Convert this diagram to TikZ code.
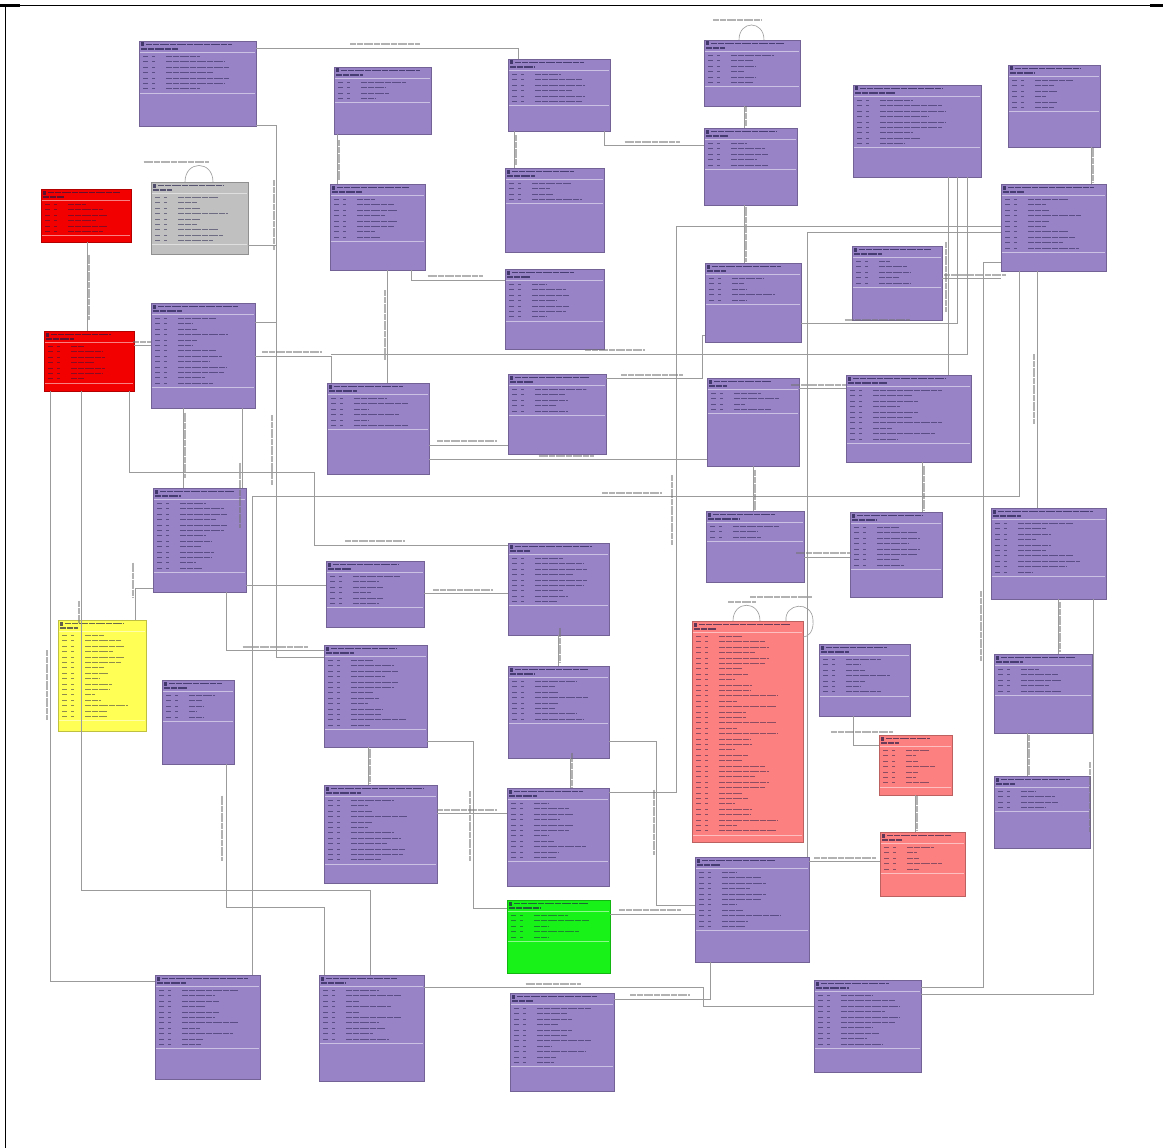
\documentclass[tikz,border=0pt]{standalone}
\usetikzlibrary{calc}
\definecolor{entpurple}{RGB}{152,131,199}
\definecolor{entred}{RGB}{242,0,0}
\definecolor{entsalmon}{RGB}{252,128,128}
\definecolor{entgray}{RGB}{192,192,192}
\definecolor{entyellow}{RGB}{255,255,85}
\definecolor{entgreen}{RGB}{25,242,25}
\definecolor{ink}{RGB}{30,25,70}
\definecolor{connc}{RGB}{155,155,155}
\tikzset{
  entbox/.style={inner sep=0pt, outer sep=0pt, line width=0.7pt},
  rowink/.style={draw=ink, line width=1.1pt, opacity=0.5, dash pattern=on 3pt off 0.4pt},
  titleink/.style={draw=ink, line width=1.3pt, opacity=0.65, dash pattern=on 3pt off 0.4pt},
  sepline/.style={draw=white, opacity=0.5, line width=0.6pt},
  conn/.style={draw=connc, line width=0.6pt},
  lbl/.style={draw=black!55, line width=1.1pt, opacity=0.55, dash pattern=on 3pt off 0.4pt},
}
% name, x1, y1, x2, y2, fill, rows, seed
\newcommand\ent[8]{%
  \pgfmathsetmacro\entw{#4-#2}\pgfmathsetmacro\enth{#5-#3}%
  \node[entbox, draw=#6!75!black, fill=#6, minimum width=\entw pt, minimum height=\enth pt] (#1) at ({(#2+#4)/2},{(#3+#5)/2}) {};
  \fill[ink, opacity=0.7] (#2+1.5,#3+1.5) rectangle (#2+5,#3+5.5);
  \pgfmathsetmacro\tla{(0.7+0.25*mod(#8*7,5)/5)*(\entw-10)}%
  \draw[titleink] (#2+7,#3+3.5) -- ++(\tla,0);
  \pgfmathsetmacro\tlb{(0.2+0.15*mod(#8*3,4)/4)*\entw}%
  \draw[titleink, line width=1.6pt] (#2+2,#3+8) -- ++(\tlb,0);
  \draw[sepline] (#2+1,#3+11.5) -- (#4-1,#3+11.5);
  \foreach \i in {1,...,#7} {
    \pgfmathsetmacro\ry{#3+15.5+(\i-1)*5.4}
    \pgfmathsetmacro\rl{(0.18+0.62*mod(\i*\i*7+\i*13+#8*11,23)/23)*(\entw-32)}
    \draw[rowink] (#2+4,\ry) -- ++(5,0);
    \draw[rowink] (#2+13,\ry) -- ++(3,0);
    \draw[rowink] (#2+27,\ry) -- ++(\rl,0);
  }
  \pgfmathsetmacro\sy{#3+15.5+(#7-1)*5.4+4}%
  \draw[sepline] (#2+1,\sy) -- (#4-1,\sy);
}
\newcommand\hlab[3]{\draw[lbl] (#1-#3/2,#2) -- (#1+#3/2,#2);}
\newcommand\vlab[3]{\draw[lbl] (#1,#2-#3/2) -- (#1,#2+#3/2);}
\begin{document}
\begin{tikzpicture}[x=1pt,y=-1pt]
\useasboundingbox (0,0) rectangle (1163,1148);
\fill[white] (0,0) rectangle (1163,1148);
% frame
\draw[line width=1pt] (5.5,1148) -- (5.5,5.5) -- (1163,5.5);
\draw[line width=2.2pt] (0,5.5) -- (20,5.5);
\draw[line width=2.2pt] (1150,5.5) -- (1163,5.5);

% entities
\ent{n1}{139}{41}{256}{126}{entpurple}{7}{1}
\ent{n2}{334}{67}{431}{134}{entpurple}{4}{2}
\ent{n3}{508}{59}{610}{131}{entpurple}{6}{3}
\ent{n4}{704}{40}{800}{106}{entpurple}{6}{4}
\ent{n5}{853}{85}{981}{177}{entpurple}{9}{5}
\ent{n6}{1008}{65}{1100}{147}{entpurple}{6}{6}
\ent{n7}{41}{189}{131}{242}{entred}{6}{7}
\ent{n8}{151}{182}{248}{254}{entgray}{9}{8}
\ent{n9}{330}{184}{425}{270}{entpurple}{8}{9}
\ent{n10}{505}{168}{604}{252}{entpurple}{4}{10}
\ent{n11}{704}{128}{797}{205}{entpurple}{5}{11}
\ent{n12}{1001}{184}{1106}{271}{entpurple}{10}{12}
\ent{n13}{44}{331}{134}{391}{entred}{7}{13}
\ent{n14}{151}{303}{255}{408}{entpurple}{13}{14}
\ent{n15}{505}{269}{604}{349}{entpurple}{7}{15}
\ent{n16}{705}{263}{801}{342}{entpurple}{5}{16}
\ent{n17}{852}{246}{942}{320}{entpurple}{5}{17}
\ent{n18}{327}{383}{429}{474}{entpurple}{6}{18}
\ent{n19}{508}{374}{606}{454}{entpurple}{5}{19}
\ent{n20}{707}{378}{799}{466}{entpurple}{4}{20}
\ent{n21}{846}{375}{971}{462}{entpurple}{10}{21}
\ent{n22}{153}{488}{246}{592}{entpurple}{13}{22}
\ent{n23}{326}{561}{424}{627}{entpurple}{6}{23}
\ent{n24}{508}{543}{609}{635}{entpurple}{9}{24}
\ent{n25}{706}{511}{804}{582}{entpurple}{3}{25}
\ent{n26}{850}{512}{942}{597}{entpurple}{8}{26}
\ent{n27}{991}{508}{1106}{599}{entpurple}{10}{27}
\ent{n28}{58}{620}{146}{731}{entyellow}{16}{28}
\ent{n29}{162}{680}{234}{764}{entpurple}{5}{29}
\ent{n30}{324}{645}{427}{747}{entpurple}{13}{30}
\ent{n31}{508}{666}{609}{758}{entpurple}{8}{31}
\ent{n32}{692}{621}{803}{842}{entsalmon}{37}{32}
\ent{n33}{819}{644}{910}{716}{entpurple}{7}{33}
\ent{n34}{994}{654}{1092}{733}{entpurple}{5}{34}
\ent{n35}{879}{735}{952}{795}{entsalmon}{7}{35}
\ent{n36}{994}{776}{1090}{848}{entpurple}{4}{36}
\ent{n37}{324}{785}{437}{883}{entpurple}{12}{37}
\ent{n38}{507}{788}{609}{886}{entpurple}{11}{38}
\ent{n39}{880}{832}{965}{896}{entsalmon}{5}{39}
\ent{n40}{695}{857}{809}{962}{entpurple}{11}{40}
\ent{n41}{507}{900}{610}{973}{entgreen}{5}{41}
\ent{n42}{155}{975}{260}{1079}{entpurple}{11}{42}
\ent{n43}{319}{975}{424}{1081}{entpurple}{10}{43}
\ent{n44}{510}{993}{614}{1091}{entpurple}{11}{44}
\ent{n45}{814}{980}{921}{1072}{entpurple}{10}{45}

% connectors
\draw[conn] (n1.east |- 0,48) -- (518,48) -- (n3.north -| 518,0); \hlab{385}{44}{70}
\draw[conn] (n1.east |- 0,125) -- (276,125) -- (276,322) -- (n14.east |- 0,322); \vlab{274}{215}{70}
\draw[conn] (n8.east |- 0,245) -- (276,245) -- (276,657) -- (n30.west |- 0,657); \vlab{272}{450}{70}
\draw[conn] (n8.north -| 185,0) .. controls (185,160) and (213,160) .. (n8.north -| 213,0); \hlab{176}{162}{65}
\draw[conn] (n7.south -| 87,0) -- (n13.north -| 87,0); \vlab{89}{287}{65}
\draw[conn] (n13.east |- 0,345) -- (n14.west |- 0,345); \hlab{142}{342}{18}
\draw[conn] (n2.south -| 337,0) -- (n9.north -| 337,0); \vlab{339}{160}{40}
\draw[conn] (n9.south -| 411,0) -- (411,280) -- (n15.west |- 0,280); \hlab{455}{276}{55}
\draw[conn] (n3.south -| 514,0) -- (n10.north -| 514,0); \vlab{516}{150}{30}
\draw[conn] (n9.south -| 387,0) -- (n18.north -| 387,0); \vlab{385}{325}{70}
\draw[conn] (n14.east |- 0,356) -- (331,356) -- (n18.north -| 331,0); \hlab{292}{352}{60}
\draw[conn] (n5.south -| 967,0) -- (967,354) -- (331,354); \hlab{615}{350}{60}
\draw[conn] (n14.south -| 183,0) -- (n22.north -| 183,0); \vlab{185}{445}{65}
\draw[conn] (n14.south -| 242,0) -- (n22.north -| 242,0); \vlab{240}{495}{65}
\draw[conn] (n13.south -| 129,0) -- (129,472) -- (314,472) -- (314,545) -- (n24.west |- 0,545); \hlab{375}{541}{60}
\draw[conn] (n13.south -| 50,0) -- (50,981) -- (n42.west |- 0,981); \vlab{47}{685}{70}
\draw[conn] (n13.south -| 81,0) -- (81,890) -- (370,890) -- (n43.north -| 370,0); \vlab{79}{612}{22}
\draw[conn] (n22.west |- 0,588) -- (135,588) -- (n28.north -| 135,0); \vlab{133}{580}{35}
\draw[conn] (n22.east |- 0,585) -- (n23.west |- 0,585);
\draw[conn] (n22.south -| 226,0) -- (226,650) -- (n30.west |- 0,650); \hlab{275}{647}{65}
\draw[conn] (n12.south -| 1019,0) -- (1019,496) -- (252,496) -- (n42.north -| 252,0); \hlab{632}{493}{60}
\draw[conn] (n29.south -| 226,0) -- (226,907) -- (324,907) -- (n43.north -| 324,0); \vlab{222}{828}{65}
\draw[conn] (n23.east |- 0,593) -- (n24.west |- 0,593); \hlab{463}{590}{60}
\draw[conn] (n24.south -| 558,0) -- (n31.north -| 558,0); \vlab{560}{645}{35}
\draw[conn] (n31.south -| 570,0) -- (n38.north -| 570,0); \vlab{572}{770}{35}
\draw[conn] (n30.south -| 368,0) -- (n37.north -| 368,0); \vlab{370}{766}{35}
\draw[conn] (n30.east |- 0,741) -- (473,741) -- (473,908) -- (n41.west |- 0,908); \vlab{470}{826}{70}
\draw[conn] (n37.east |- 0,813) -- (n38.west |- 0,813); \hlab{467}{810}{60}
\draw[conn] (n43.east |- 0,987) -- (703,987) -- (703,1006) -- (n45.west |- 0,1006); \hlab{553}{984}{55}
\draw[conn] (n40.south -| 710,0) -- (710,999) -- (n44.east |- 0,999); \hlab{660}{995}{60}
\draw[conn] (n4.north -| 739,0) .. controls (739,20) and (764,20) .. (n4.north -| 764,0); \hlab{737}{20}{48}
\draw[conn] (n4.south -| 744,0) -- (n11.north -| 744,0); \vlab{746}{116}{20}
\draw[conn] (n3.south -| 604,0) -- (604,145) -- (n11.west |- 0,145); \hlab{652}{142}{55}
\draw[conn] (n11.south -| 744,0) -- (n16.north -| 744,0); \vlab{746}{234}{55}
\draw[conn] (n6.south -| 1091,0) -- (n12.north -| 1091,0); \vlab{1093}{165}{35}
\draw[conn] (n17.east |- 0,278) -- (n12.west |- 0,278); \hlab{975}{275}{62}
\draw[conn] (n5.south -| 948,0) -- (n21.north -| 948,0); \vlab{946}{277}{70}
\draw[conn] (n5.south -| 957,0) -- (957,323) -- (n16.east |- 0,323); \hlab{877}{320}{65}
\draw[conn] (n12.west |- 0,226) -- (676,226) -- (676,792) -- (n38.east |- 0,792); \vlab{672}{510}{70}
\draw[conn] (n12.west |- 0,232) -- (807,232) -- (n40.north -| 807,0);
\draw[conn] (n12.west |- 0,262) -- (983,262) -- (983,987) -- (n45.east |- 0,987); \vlab{981}{626}{70}
\draw[conn] (n27.south -| 1093,0) -- (1093,994) -- (n45.east |- 0,994); \vlab{1090}{797}{70}
\draw[conn] (n12.south -| 1037,0) -- (n27.north -| 1037,0); \vlab{1034}{389}{70}
\draw[conn] (n18.east |- 0,459) -- (n20.west |- 0,459); \hlab{566}{456}{55}
\draw[conn] (n18.east |- 0,445) -- (n19.west |- 0,445); \hlab{467}{441}{60}
\draw[conn] (n19.east |- 0,378) -- (702,378) -- (702,335) -- (n16.west |- 0,335); \hlab{652}{375}{62}
\draw[conn] (n20.east |- 0,388) -- (n21.west |- 0,388); \hlab{818}{385}{55}
\draw[conn] (n20.south -| 753,0) -- (n25.north -| 753,0); \vlab{755}{490}{40}
\draw[conn] (n21.south -| 922,0) -- (n26.north -| 922,0); \vlab{924}{488}{45}
\draw[conn] (n25.east |- 0,557) -- (n26.west |- 0,557); \hlab{823}{553}{55}
\draw[conn] (n27.south -| 1058,0) -- (n34.north -| 1058,0); \vlab{1060}{627}{50}
\draw[conn] (n34.south -| 1027,0) -- (n36.north -| 1027,0); \vlab{1029}{755}{40}
\draw[conn] (n33.south -| 853,0) -- (853,745) -- (n35.west |- 0,745); \hlab{862}{732}{62}
\draw[conn] (n35.south -| 915,0) -- (n39.north -| 915,0); \vlab{917}{813}{35}
\draw[conn] (n40.east |- 0,861) -- (n39.west |- 0,861); \hlab{845}{858}{62}
\draw[conn] (n41.east |- 0,914) -- (n40.west |- 0,914); \hlab{650}{910}{62}
\draw[conn] (n31.east |- 0,741) -- (656,741) -- (656,905) -- (n40.west |- 0,905); \vlab{654}{822}{65}
\draw[conn] (n32.north -| 733,0) .. controls (733,600) and (760,600) .. (n32.north -| 760,0); \hlab{742}{602}{28}
\draw[conn] (n32.north -| 786,0) .. controls (784,603) and (812,600) .. (813,620) .. controls (814,632) and (808,637) .. (n32.east |- 0,637); \hlab{781}{597}{62}
\end{tikzpicture}
\end{document}
